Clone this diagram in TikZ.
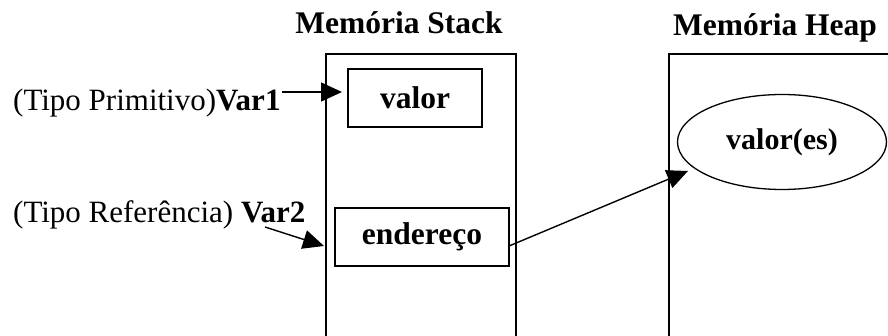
\documentclass[tikz,border=0pt]{standalone}
\usepackage{fontspec}
\setmainfont{Liberation Serif}
\usetikzlibrary{arrows.meta,shapes.geometric}
\begin{document}
\begin{tikzpicture}[x=1pt,y=-1pt,
  txt/.style={inner sep=0pt, font=\fontsize{31}{34}\selectfont},
  head/.style={inner sep=0pt, font=\fontsize{31.5}{34}\selectfont\bfseries},
  cell/.style={draw, line width=1.4pt, inner sep=0pt, font=\fontsize{31.5}{34}\selectfont\bfseries},
  blob/.style={draw, ellipse, line width=1.3pt, inner sep=0pt, font=\fontsize{30}{32}\selectfont\bfseries},
  region/.style={line width=1.6pt},
  arr/.style={line width=1.4pt, -{Triangle[length=21pt,width=19pt]}}]
\useasboundingbox (0,0) rectangle (888,336);
\fill[white] (0,0) rectangle (888,336);
% headings
\node[head, anchor=base] (hs) at (399,34) {Memória Stack};
\node[head, anchor=base] (hh) at (775,36) {Memória Heap};
% stack region
\coordinate (s1) at (326,338);
\coordinate (s2) at (326,54);
\coordinate (s3) at (516,54);
\coordinate (s4) at (516,338);
\draw[region] (s1) -- (s2) -- (s3) -- (s4);
% heap region
\coordinate (h1) at (669,338);
\coordinate (h2) at (669,54);
\coordinate (h3) at (892,54);
\draw[region] (h1) -- (h2) -- (h3);
% cells
\node[cell, minimum width=134pt, minimum height=58pt] (valor) at (415,98) {valor};
\node[cell, minimum width=174pt, minimum height=58pt] (ender) at (422,237) {endereço};
\node[blob, minimum width=209pt, minimum height=95pt] (vals) at (782,142) {valor(es)};
% labels
\node[txt, anchor=base west] (v1) at (13,111) {(Tipo Primitivo)\textbf{Var1}};
\node[txt, anchor=base west] (v2) at (13,223) {(Tipo Referência) \textbf{Var2}};
% arrow end points
\coordinate (v1a) at (282,92);
\coordinate (v1t) at (342,92);
\coordinate (v2a) at (265,227);
\coordinate (v2t) at (324,246);
\coordinate (ea) at (509,246);
\coordinate (ht) at (688,171);
\draw[arr] (v1a) -- (v1t);
\draw[arr] (v2a) -- (v2t);
\draw[arr] (ea) -- (ht);
\end{tikzpicture}
\end{document}
